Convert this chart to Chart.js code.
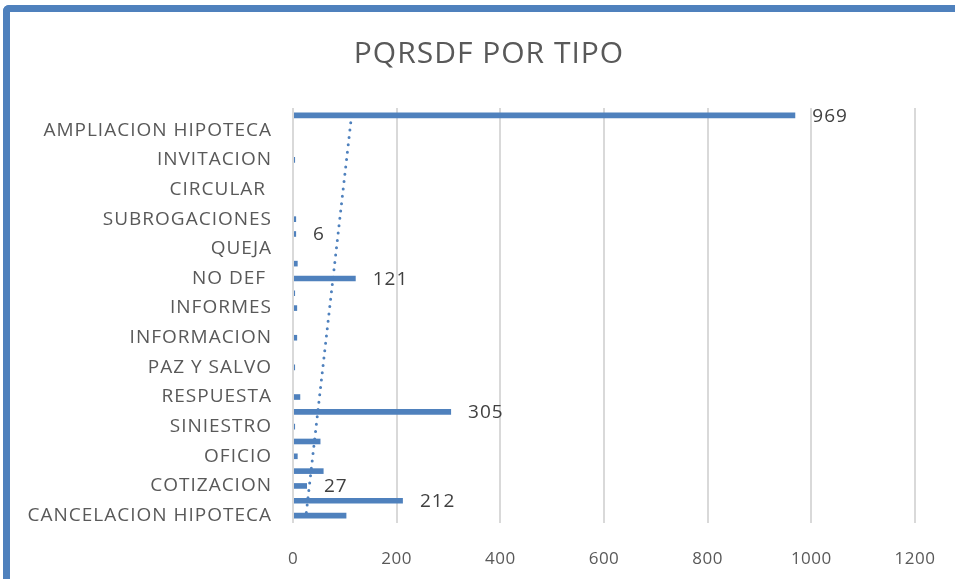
<!DOCTYPE html>
<html>
<head>
<meta charset="utf-8">
<script src="https://cdn.jsdelivr.net/npm/chart.js@4/dist/chart.umd.min.js"></script>
<style>
  html, body { margin: 0; padding: 0; background: #ffffff; }
  #wrap { position: relative; width: 955px; height: 579px; overflow: hidden; }
  #frame { position: absolute; left: 3px; top: 5px; width: 1000px; height: 700px;
           border-left: 7px solid #4f81bd; border-top: 7px solid #4f81bd;
           border-top-left-radius: 6px; box-sizing: border-box; }
  canvas { position: absolute; left: 0; top: 0; }
</style>
</head>
<body>
<div id="wrap">
  <div id="frame"></div>
  <canvas id="c" width="955" height="579"></canvas>
</div>
<script>
// Categories, top to bottom (Excel shows every second label only)
const categories = [
  "", "AMPLIACION HIPOTECA", "", "INVITACION", "", "CIRCULAR ", "",
  "SUBROGACIONES", "", "QUEJA", "", "NO DEF ", "", "INFORMES", "",
  "INFORMACION", "", "PAZ Y SALVO", "", "RESPUESTA", "", "SINIESTRO", "",
  "OFICIO", "", "COTIZACION", "", "CANCELACION HIPOTECA"
];
const values = [
  969, 0, 0, 4, 0, 0, 0,
  6, 6, 0, 9, 121, 4, 8, 0,
  8, 0, 4, 0, 14, 305, 4, 53,
  9, 59, 27, 212, 103
];
// 1 = value label shown next to the bar
const showLabel = [
  1, 0, 0, 0, 0, 0, 0,
  0, 1, 0, 0, 1, 0, 0, 0,
  0, 0, 0, 0, 0, 1, 0, 0,
  0, 0, 1, 1, 0
];
// Linear trend line endpoints (top, bottom)
const trendTop = 113;
const trendBottom = 25;
const trendValues = categories.map((_, i) =>
  i === 0 ? trendTop : (i === categories.length - 1 ? trendBottom : null));
const xTicks = [0, 200, 400, 600, 800, 1000, 1200];
const titleText = "PQRSDF POR TIPO";

const FONT = "'Open Sans', 'Noto Sans', sans-serif";
const BLUE = '#4f81bd';

function spaceLabels(scale, spacing) {
  if (scale._spacedPatch) return;
  scale._spacedPatch = true;
  const orig = scale.drawLabels;
  scale.drawLabels = function (area) {
    const ctx = this.ctx;
    const prev = ctx.letterSpacing;
    ctx.letterSpacing = spacing;
    orig.call(this, area);
    ctx.letterSpacing = prev || '0px';
  };
}

const valueLabels = {
  id: 'valueLabels',
  afterDatasetsDraw(chart) {
    const meta = chart.getDatasetMeta(1);
    const ctx = chart.ctx;
    ctx.save();
    ctx.font = "19px " + FONT;
    ctx.letterSpacing = '1px';
    ctx.fillStyle = '#404040';
    ctx.textAlign = 'left';
    ctx.textBaseline = 'middle';
    meta.data.forEach((bar, i) => {
      if (!showLabel[i]) return;
      ctx.fillText(String(values[i]), bar.x + 17, bar.y + 1);
    });
    ctx.restore();
  }
};

const chartTitle = {
  id: 'chartTitle',
  afterDraw(chart) {
    const ctx = chart.ctx;
    ctx.save();
    ctx.font = "30px " + FONT;
    ctx.letterSpacing = '1px';
    ctx.fillStyle = '#595959';
    ctx.textAlign = 'center';
    ctx.textBaseline = 'middle';
    ctx.fillText(titleText, 489, 54);
    ctx.restore();
  }
};

new Chart(document.getElementById('c'), {
  data: {
    labels: categories,
    datasets: [
      {
        type: 'line',
        indexAxis: 'y',
        data: trendValues,
        spanGaps: true,
        borderColor: BLUE,
        borderWidth: 3,
        borderCapStyle: 'round',
        borderDash: [0, 7.4],
        pointRadius: 0,
        fill: false,
        order: 0
      },
      {
        type: 'bar',
        indexAxis: 'y',
        data: values,
        backgroundColor: BLUE,
        categoryPercentage: 1,
        barPercentage: 0.38,
        order: 1
      }
    ]
  },
  options: {
    indexAxis: 'y',
    responsive: false,
    animation: false,
    devicePixelRatio: 1,
    layout: { padding: { top: 108, right: 40, bottom: 0, left: 0 } },
    plugins: {
      legend: { display: false },
      tooltip: { enabled: false },
      title: { display: false }
    },
    scales: {
      x: {
        type: 'linear',
        min: 0, max: 1200,
        afterBuildTicks(scale) { scale.ticks = xTicks.map(v => ({ value: v })); },
        afterFit(scale) {
          scale.height = 56;
          scale.paddingLeft = 0;
          scale.paddingRight = 0;
          spaceLabels(scale, '0.5px');
        },
        border: { display: false },
        grid: { color: '#d9d9d9', lineWidth: 2, drawTicks: false },
        ticks: {
          color: '#595959', font: { family: FONT, size: 17 }, padding: 26,
          callback: (v) => String(v)
        }
      },
      y: {
        type: 'category',
        afterFit(scale) { scale.width = 293; spaceLabels(scale, '1px'); },
        border: { display: false },
        grid: { display: false, drawTicks: false },
        ticks: { autoSkip: false, color: '#595959', font: { family: FONT, size: 19 }, padding: 21 }
      }
    }
  },
  plugins: [valueLabels, chartTitle]
});
</script>
</body>
</html>
